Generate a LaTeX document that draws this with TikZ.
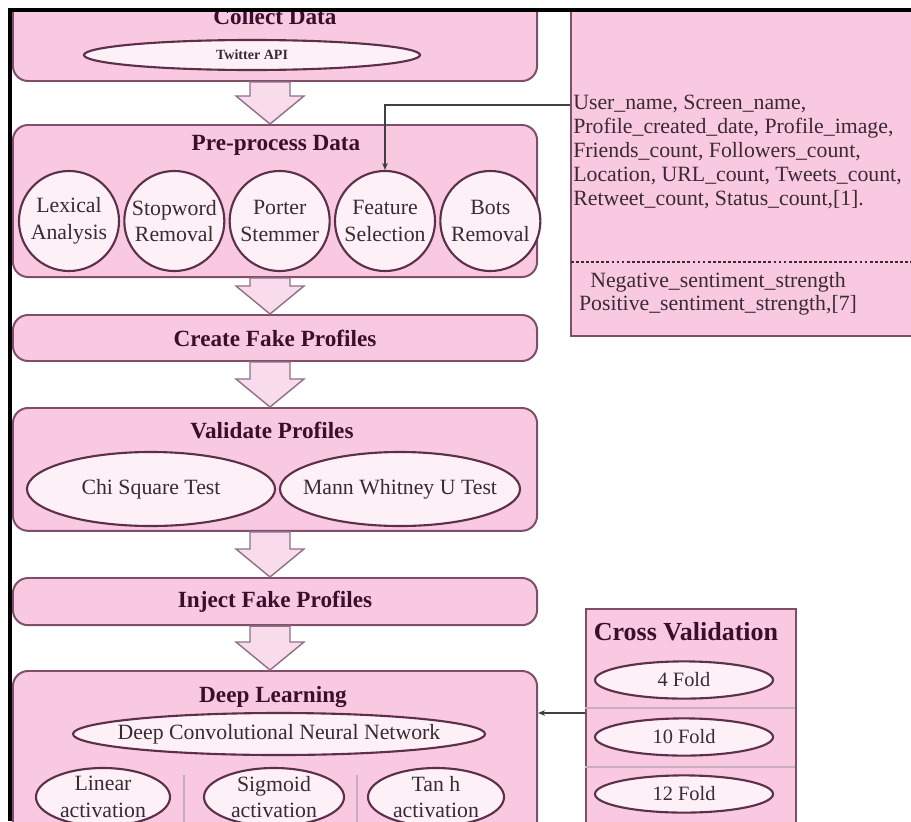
\documentclass[tikz,border=0pt]{standalone}
\usepackage{fontspec}
\setmainfont{Liberation Serif}
\usepackage{xcolor}
\usepackage{tikz}
\usetikzlibrary{shapes.geometric, arrows.meta, positioning, calc}
\definecolor{boxpink}{HTML}{F9C9E1}
\definecolor{boxline}{HTML}{7E4E6A}
\definecolor{ovalfill}{HTML}{FDF1F7}
\definecolor{ovalline}{HTML}{5C2F4A}
\definecolor{titletext}{HTML}{3A0F2C}
\definecolor{bodytext}{HTML}{3A2A32}
\definecolor{arrowfill}{HTML}{F8DCEB}
\definecolor{arrowline}{HTML}{8E7088}
\tikzstyle{stage} = [rectangle, rounded corners=0.38cm, draw=boxline, line width=1.4pt, fill=boxpink, minimum width=13.1cm]
\tikzstyle{stagetitle} = [font=\fontsize{16.5}{19}\selectfont\bfseries, text=titletext]
\tikzstyle{oval} = [ellipse, draw=ovalline, line width=1.5pt, fill=ovalfill, text=bodytext, font=\fontsize{15.5}{19}\selectfont, inner xsep=-14pt, inner ysep=-8pt, align=center]
\tikzstyle{disc} = [circle, draw=ovalline, line width=1.5pt, fill=ovalfill, text=bodytext, font=\fontsize{15.5}{19}\selectfont, minimum size=2.5cm, inner sep=0pt, align=center]
\tikzstyle{flow} = [draw=arrowline, line width=1pt, fill=arrowfill]
\tikzstyle{link} = [draw=black!75, line width=0.8pt, -{Stealth[length=5pt,width=4pt]}]
\tikzstyle{sepline} = [draw=boxline!45, line width=0.8pt]
% hollow block arrow between two stages
\newcommand{\flowarrow}[2]{%
  \draw[flow] (#2.north -| ax) -- ++(-34,-28) -- ++(14,0) -- ($(#1.south -| ax)+(-20,0)$)
    -- ($(#1.south -| ax)+(20,0)$) -- ($(#2.north -| ax)+(20,-28)$) -- ++(14,0) -- cycle;}

\begin{document}
\begin{tikzpicture}[x=0.025cm, y=-0.025cm, >=Stealth]
    \useasboundingbox (0,0) rectangle (911,821);
    \coordinate (ax) at (270,0);

    \begin{scope}
    \clip (10,10) rectangle (911,821);

    % Stages
    \node (collect) [stage, anchor=north, minimum height=3cm] at (275,-40) {};
    \node (collecttitle) [stagetitle] at (275,17) {Collect Data};
    \node (twitter) [oval, minimum width=8.4cm, minimum height=0.75cm, font=\fontsize{10}{12}\selectfont\bfseries] at (252,55) {Twitter API};

    \node (prep) [stage, anchor=north, minimum height=3.8cm] at (275,124) {};
    \node (preptitle) [stagetitle] at (276,145) {Pre-process Data};
    \node (lexical) [disc] at (69,221) {Lexical\\Analysis};
    \node (stopword) [disc, right=0.08cm of lexical] {Stopword\\Removal};
    \node (porter) [disc, right=0.08cm of stopword] {Porter\\Stemmer};
    \node (feature) [disc, right=0.08cm of porter] {Feature\\Selection};
    \node (bots) [disc, right=0.08cm of feature] {Bots\\Removal};

    \node (create) [stage, stagetitle, anchor=north, minimum height=1.15cm] at (275,314) {Create Fake Profiles};

    \node (validate) [stage, anchor=north, minimum height=3.07cm] at (275,407) {};
    \node (validtitle) [stagetitle] at (272,430) {Validate Profiles};
    \node (chi) [oval, minimum width=6.2cm, minimum height=1.85cm] at (151,489) {Chi Square Test};
    \node (mann) [oval, minimum width=6.0cm, minimum height=1.85cm] at (400,489) {Mann Whitney U Test};

    \node (inject) [stage, stagetitle, anchor=north, minimum height=1.18cm] at (275,577) {Inject Fake Profiles};

    \node (deep) [stage, anchor=north, minimum height=7.5cm] at (275,670) {};
    \node (deeptitle) [stagetitle] at (273,697) {Deep Learning};
    \node (dcnn) [oval, minimum width=10.3cm, minimum height=1.05cm] at (279,734) {Deep Convolutional Neural Network};
    \draw[sepline] (184,775) -- (184,830);
    \draw[sepline] (357,775) -- (357,830);
    \node (linear) [oval, minimum width=3.35cm, minimum height=1.45cm] at (103,797) {Linear\\activation};
    \node (sigmoid) [oval, minimum width=3.5cm, minimum height=1.45cm] at (274,797) {Sigmoid\\activation};
    \node (tanh) [oval, minimum width=3.4cm, minimum height=1.45cm] at (436,797) {Tan h\\activation};

    % Stage arrows
    \flowarrow{collect}{prep}
    \flowarrow{prep}{create}
    \flowarrow{create}{validate}
    \flowarrow{validate}{inject}
    \flowarrow{inject}{deep}

    % Feature list
    \node (info) [rectangle, draw=boxline, line width=1.2pt, fill=boxpink, anchor=north west, minimum width=10cm, minimum height=8.9cm] at (570,-21) {};
    \node (featlist) [anchor=north west, align=left, inner sep=0pt, text=bodytext, font=\fontsize{15.5}{17}\selectfont] at (573,95)
        {User\_name, Screen\_name,\\Profile\_created\_date, Profile\_image,\\Friends\_count, Followers\_count,\\Location, URL\_count, Tweets\_count,\\Retweet\_count, Status\_count,[1].};
    \draw[draw=bodytext, line width=1pt, dash pattern=on 2pt off 1.6pt] (571,262) -- (915,262);
    \node (senti) [align=center, inner sep=0pt, text=bodytext, font=\fontsize{15.5}{16.5}\selectfont] at (718,294)
        {Negative\_sentiment\_strength\\Positive\_sentiment\_strength,[7]};
    \coordinate (userline) at (570,105);
    \draw[link] (userline) -| (feature.north);

    % Cross validation
    \node (cross) [rectangle, draw=boxline, line width=1.2pt, fill=boxpink, anchor=north west, minimum width=5.25cm, minimum height=7.5cm] at (585,608) {};
    \node (crosstitle) [stagetitle, font=\fontsize{18.5}{21}\selectfont\bfseries] at (686,632) {Cross Validation};
    \draw[sepline] (585,708) -- (795,708);
    \draw[sepline] (585,767) -- (795,767);
    \node (fold4) [oval, minimum width=4.45cm, minimum height=0.93cm, font=\fontsize{14.5}{17}\selectfont] at (684,680) {4 Fold};
    \node (fold10) [oval, minimum width=4.45cm, minimum height=0.93cm, font=\fontsize{14.5}{17}\selectfont] at (684,737) {10 Fold};
    \node (fold12) [oval, minimum width=4.45cm, minimum height=0.93cm, font=\fontsize{14.5}{17}\selectfont] at (684,794) {12 Fold};
    \coordinate (crossin) at (585,713);
    \draw[link] (crossin) -- (crossin -| deep.east);
    \end{scope}

    % Frame
    \draw[line width=2.2pt] (10,821) -- (10,10) -- (911,10);

\end{tikzpicture}
\end{document}
